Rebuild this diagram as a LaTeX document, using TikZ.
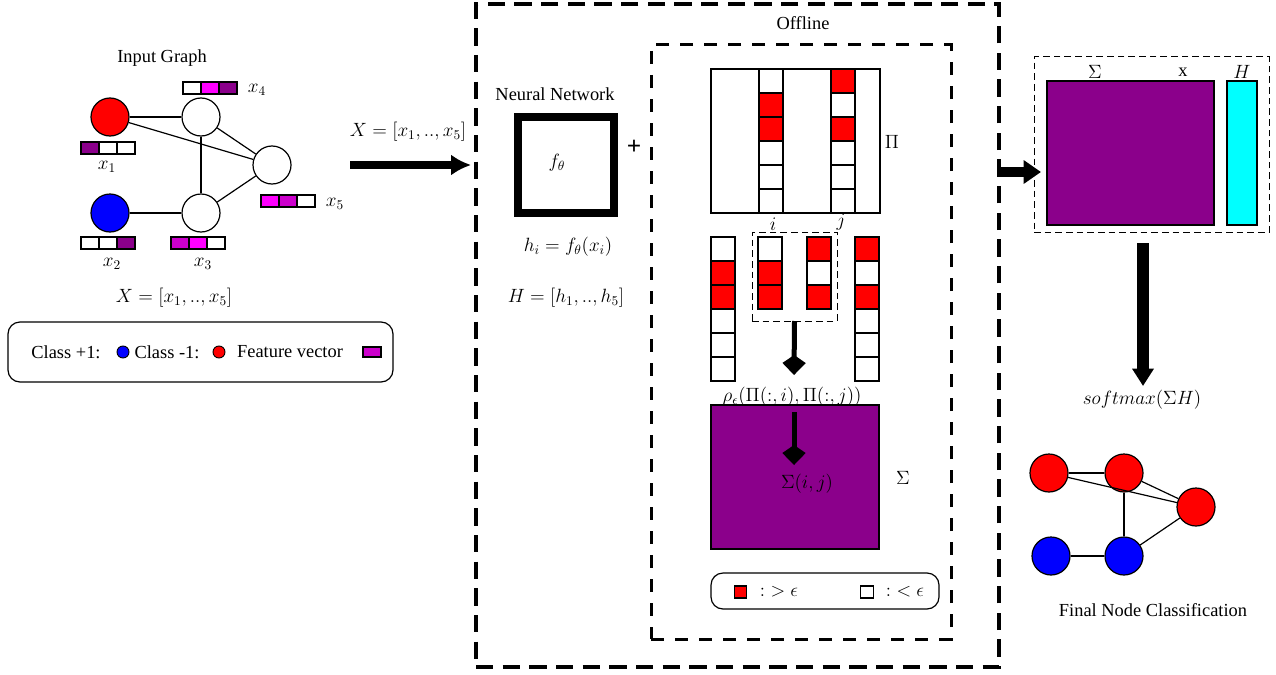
\documentclass[tikz,border=0pt]{standalone}
\usepackage{fontspec}
\setmainfont{Liberation Serif}
\usetikzlibrary{arrows.meta}
\definecolor{dpurple}{RGB}{139,0,139}
\definecolor{mpurple}{RGB}{204,0,204}
\definecolor{lmag}{RGB}{255,0,255}
\definecolor{cyanH}{RGB}{0,255,255}
\tikzset{
 txt/.style={font=\fontsize{13.8}{16}\selectfont, inner sep=0pt},
 gnode/.style={circle,draw,line width=0.9pt,minimum size=28.5pt,inner sep=0pt},
 gedge/.style={line width=0.9pt},
 fcell/.style={draw,line width=1pt,minimum width=13.5pt,minimum height=9pt,inner sep=0pt,outer sep=0pt},
 pcell/.style={draw,line width=0.9pt,minimum width=18pt,minimum height=18pt,inner sep=0pt,outer sep=0pt},
 bigdash/.style={draw,line width=3pt,dash pattern=on 13pt off 7pt},
 middash/.style={draw,line width=2.25pt,dash pattern=on 10pt off 8pt},
 thindash/.style={draw,line width=0.75pt,dash pattern=on 5pt off 3pt},
 boxnode/.style={inner sep=0pt,outer sep=0pt},
 legbox/.style={draw,line width=0.9pt,rounded corners=9pt,inner sep=0pt},
 kitearrow/.style={line width=3.75pt,-{Kite[length=15pt,width=17.5pt,inset=6pt]}},
}
\begin{document}
\begin{tikzpicture}[x=0.75pt,y=-0.75pt]
\useasboundingbox (0,0) rectangle (1276,674);

% ---------- Input graph ----------
\node[txt] (ig) at (162,58) {Input Graph};
\node[gnode,fill=red] (n1) at (110,117) {};
\node[gnode,fill=white] (n4) at (201,117) {};
\node[gnode,fill=white] (n5) at (272,165) {};
\node[gnode,fill=blue] (n2) at (110,213) {};
\node[gnode,fill=white] (n3) at (201,213) {};
\draw[gedge] (n1) -- (n4);
\draw[gedge] (n1) -- (n5);
\draw[gedge] (n4) -- (n5);
\draw[gedge] (n4) -- (n3);
\draw[gedge] (n3) -- (n5);
\draw[gedge] (n2) -- (n3);

% feature vectors
\node[fcell,fill=white,anchor=north west] (v4a) at (183,82) {};
\node[fcell,fill=lmag,anchor=west] (v4b) at (v4a.east) {};
\node[fcell,fill=dpurple,anchor=west] (v4c) at (v4b.east) {};
\node[txt] (l4) at (257,90) {$x_4$};

\node[fcell,fill=dpurple,anchor=north west] (v1a) at (81,142) {};
\node[fcell,fill=white,anchor=west] (v1b) at (v1a.east) {};
\node[fcell,fill=white,anchor=west] (v1c) at (v1b.east) {};
\node[txt] (l1) at (107,167) {$x_1$};

\node[fcell,fill=lmag,anchor=north west] (v5a) at (261,195) {};
\node[fcell,fill=mpurple,anchor=west] (v5b) at (v5a.east) {};
\node[fcell,fill=white,anchor=west] (v5c) at (v5b.east) {};
\node[txt] (l5) at (335,204) {$x_5$};

\node[fcell,fill=white,anchor=north west] (v2a) at (81,237) {};
\node[fcell,fill=white,anchor=west] (v2b) at (v2a.east) {};
\node[fcell,fill=dpurple,anchor=west] (v2c) at (v2b.east) {};
\node[txt] (l2) at (112,264) {$x_2$};

\node[fcell,fill=mpurple,anchor=north west] (v3a) at (171,237) {};
\node[fcell,fill=lmag,anchor=west] (v3b) at (v3a.east) {};
\node[fcell,fill=white,anchor=west] (v3c) at (v3b.east) {};
\node[txt] (l3) at (203,264) {$x_3$};

\node[txt] (Xdef) at (174,298) {$X=[x_1,..,x_5]$};

% legend left
\node[legbox,minimum width=288.75pt,minimum height=45pt] (leg) at (200.5,352) {};
\node[txt] (c1t) at (66,352) {Class +1:};
\node[circle,draw,line width=0.7pt,fill=blue,minimum size=9pt,inner sep=0pt] (c1d) at (123,352) {};
\node[txt] (c2t) at (167,352) {Class -1:};
\node[circle,draw,line width=0.7pt,fill=red,minimum size=9pt,inner sep=0pt] (c2d) at (219,352) {};
\node[txt] (fvt) at (290,352) {Feature vector};
\node[draw,line width=0.8pt,fill=mpurple,minimum width=13.5pt,minimum height=7.5pt,inner sep=0pt] (fvs) at (372,352) {};

% X arrow
\node[txt] (Xlab) at (408,132) {$X=[x_1,..,x_5]$};
\coordinate (xa1) at (350,165);
\coordinate (xa2) at (471,165);
\draw[line width=6pt,-{Latex[length=15pt,width=16pt]}] (xa1) -- (xa2);

% ---------- Offline block ----------
\node[bigdash,boxnode,minimum width=392.25pt,minimum height=497.25pt] (offline) at (737.5,335.5) {};
\node[txt] (offt) at (803,23) {Offline};
\node[middash,boxnode,minimum width=225pt,minimum height=445.5pt] (inner) at (801,342) {};

\node[txt] (nnt) at (555,94) {Neural Network};
\node[draw,line width=6pt,boxnode,minimum width=72pt,minimum height=72pt] (nn) at (566,165) {};
\node[txt] (ft) at (557,163) {$f_\theta$};
\node[txt,font=\fontsize{19}{20}\selectfont\bfseries] (plus) at (634,147) {+};
\node[txt] (hi) at (568,247) {$h_i=f_\theta(x_i)$};
\node[txt] (Hdef) at (566,298) {$H=[h_1,..,h_5]$};

% Pi matrix
\node[draw,line width=0.9pt,boxnode,minimum width=126.75pt,minimum height=108pt] (pi) at (795.5,141) {};
\foreach \c [count=\k from 0] in {white,red,red,white,white,white}
  \node[pcell,fill=\c,anchor=north west] (pii\k) at (759,{69+24*\k}) {};
\foreach \c [count=\k from 0] in {red,white,red,white,white,white}
  \node[pcell,fill=\c,anchor=north west] (pij\k) at (831,{69+24*\k}) {};
\node[txt] (pil) at (892,142) {$\Pi$};
\node[txt] (il) at (773,224) {$i$};
\node[txt] (jl) at (841,222) {$j$};

% columns
\foreach \c [count=\k from 0] in {white,red,red,white,white,white}
  \node[pcell,fill=\c,anchor=north west] (ca\k) at (711,{237+24*\k}) {};
\foreach \c [count=\k from 0] in {white,red,red}
  \node[pcell,fill=\c,anchor=north west] (cb\k) at (758,{237+24*\k}) {};
\foreach \c [count=\k from 0] in {red,white,red}
  \node[pcell,fill=\c,anchor=north west] (cc\k) at (807,{237+24*\k}) {};
\foreach \c [count=\k from 0] in {red,white,red,white,white,white}
  \node[pcell,fill=\c,anchor=north west] (cd\k) at (855,{237+24*\k}) {};
\node[thindash,boxnode,minimum width=63.75pt,minimum height=66.75pt] (sel) at (794.5,276.5) {};

\node[txt] (rho) at (792,397) {$\rho_\epsilon(\Pi(:,i),\Pi(:,j))$};
\coordinate (k1b) at (794,375);
\draw[kitearrow] (sel.south) -- (k1b);

% Sigma matrix
\node[draw,line width=0.9pt,fill=dpurple,boxnode,minimum width=126pt,minimum height=108pt] (sig) at (795,477) {};
\coordinate (k2a) at (794,412);
\coordinate (k2b) at (794,465);
\draw[kitearrow] (k2a) -- (k2b);
\node[txt] (sigij) at (807,484) {$\Sigma(i,j)$};
\node[txt] (sigl) at (903,478) {$\Sigma$};

% legend offline
\node[legbox,minimum width=171pt,minimum height=27pt] (leg2) at (825,591) {};
\node[draw,line width=0.8pt,fill=red,minimum width=9.5pt,minimum height=9pt,inner sep=0pt] (rs) at (740.5,592) {};
\node[txt] (gt) at (779,592) {${:}>\epsilon$};
\node[draw,line width=0.8pt,fill=white,minimum width=9.5pt,minimum height=9pt,inner sep=0pt] (ws) at (867,592) {};
\node[txt] (lt) at (905,592) {${:}<\epsilon$};

% ---------- Right part ----------
\node[thindash,boxnode,minimum width=176.25pt,minimum height=131.25pt] (rbox) at (1151.5,144.5) {};
\node[draw,line width=0.9pt,fill=dpurple,boxnode,minimum width=125.25pt,minimum height=108pt] (sigR) at (1130.5,153) {};
\node[draw,line width=0.9pt,fill=cyanH,boxnode,minimum width=22.5pt,minimum height=108pt] (HR) at (1242,153) {};
\node[txt] (sR) at (1095,72) {$\Sigma$};
\node[txt] (xR) at (1183,72) {x};
\node[txt] (hR) at (1242,72) {$H$};

\coordinate (ra1) at (998,172);
\coordinate (ra2) at (1041,172);
\draw[line width=7.5pt,-{Triangle[length=13pt,width=17pt]}] (ra1) -- (ra2);

\node[txt] (smax) at (1142,400) {$softmax(\Sigma H)$};
\coordinate (da1) at (1143,243);
\coordinate (da2) at (1143,386);
\draw[line width=9pt,-{Triangle[length=13pt,width=15.5pt]}] (da1) -- (da2);

% final graph
\node[gnode,fill=red] (m1) at (1049,473) {};
\node[gnode,fill=red] (m4) at (1124,473) {};
\node[gnode,fill=red] (m5) at (1196,507) {};
\node[gnode,fill=blue] (m2) at (1051,556) {};
\node[gnode,fill=blue] (m3) at (1124,556) {};
\draw[gedge] (m1) -- (m4);
\draw[gedge] (m1) -- (m5);
\draw[gedge] (m4) -- (m5);
\draw[gedge] (m4) -- (m3);
\draw[gedge] (m3) -- (m5);
\draw[gedge] (m2) -- (m3);
\node[txt] (fnc) at (1153,610) {Final Node Classification};
\end{tikzpicture}
\end{document}
